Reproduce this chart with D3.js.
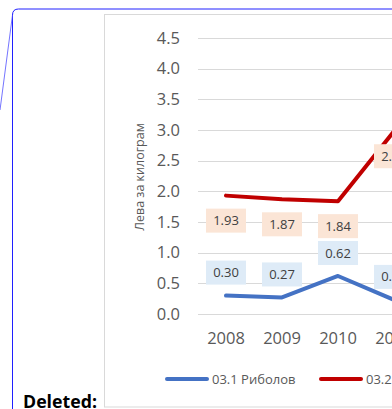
<!DOCTYPE html>
<html><head><meta charset="utf-8">
<script src="https://cdn.jsdelivr.net/npm/d3@7"></script>
<style>body{margin:0;background:#fff}svg{display:block}</style>
</head><body>
<svg id="c" width="392" height="409"></svg>
<script>
const years = ["2008", "2009", "2010", "2011"];
const fishing = [0.30, 0.27, 0.62, 0.23];
const aquaculture = [1.93, 1.87, 1.84, 2.98];
const yTicks = [0, 0.5, 1.0, 1.5, 2.0, 2.5, 3.0, 3.5, 4.0, 4.5];
const seriesNames = ["03.1 Риболов", "03.2 Аквакултури"];
const yTitle = "Лева за килограм";

const svg = d3.select("#c");
const F = "'Open Sans', sans-serif";

// Word track-change frame
svg.append("path").attr("d", "M12.5,409 L12.5,15 Q12.5,9 18.5,9 L392,9")
  .attr("fill", "none").attr("stroke", "#2020ff").attr("stroke-width", 1);
svg.append("line").attr("x1", 12.5).attr("y1", 15).attr("x2", 0).attr("y2", 110)
  .attr("stroke", "#5050ff").attr("stroke-width", 0.8);
svg.append("text").attr("x", 23).attr("y", 408).text("Deleted:")
  .attr("font-family", F).attr("font-weight", "bold").attr("font-size", 17)
  .attr("textLength", 74).attr("lengthAdjust", "spacingAndGlyphs").attr("fill", "#000");

// chart border
svg.append("rect").attr("x", 104.5).attr("y", 14.5).attr("width", 400).attr("height", 392.5)
  .attr("fill", "#fff").attr("stroke", "#d9d9d9").attr("stroke-width", 1);

const x = d3.scaleBand().domain(years).range([198, 198 + 56 * years.length]);
const cx = d => x(d) + x.bandwidth() / 2;
const y = d3.scaleLinear().domain([0, 4.5]).range([314, 38]);

// grid + y axis
const yAxis = d3.axisLeft(y).tickValues(yTicks).tickFormat(d3.format(".1f")).tickSize(0).tickPadding(18);
const gy = svg.append("g").attr("transform", "translate(198,0)").call(yAxis);
gy.select(".domain").remove();
gy.selectAll("text").attr("font-family", F).attr("font-size", 16.5).attr("fill", "#595959");
svg.append("g").selectAll("line").data(yTicks).join("line")
  .attr("x1", 198).attr("x2", 400)
  .attr("y1", d => Math.round(y(d)) + 0.5).attr("y2", d => Math.round(y(d)) + 0.5)
  .attr("stroke", "#d9d9d9").attr("stroke-width", 1);

// x axis
const xAxis = d3.axisBottom(x).tickSize(0).tickPadding(18);
const gx = svg.append("g").attr("transform", "translate(0,314)").call(xAxis);
gx.select(".domain").remove();
gx.selectAll("text").attr("font-family", F).attr("font-size", 16.5).attr("fill", "#595959");

// y title
svg.append("text").attr("transform", "translate(144,177) rotate(-90)")
  .attr("text-anchor", "middle").attr("font-family", F).attr("font-size", 12.5)
  .attr("fill", "#595959").text(yTitle);

const line = d3.line().x((d, i) => cx(years[i])).y(d => y(d));
const series = [
  {vals: fishing, color: "#4472c4", bg: "#deebf7", dy: -23},
  {vals: aquaculture, color: "#c00000", bg: "#fbe5d6", dy: 25}
];
series.forEach(s => {
  svg.append("path").datum(s.vals).attr("d", line).attr("fill", "none")
    .attr("stroke", s.color).attr("stroke-width", 4).attr("stroke-linejoin", "round")
    .attr("stroke-linecap", "round");
});
series.forEach(s => {
  const g = svg.append("g").selectAll("g").data(s.vals).join("g")
    .attr("transform", (d, i) => `translate(${cx(years[i])},${y(d) + s.dy})`);
  g.append("rect").attr("x", -20).attr("y", -12).attr("width", 40).attr("height", 24).attr("fill", s.bg);
  g.append("text").attr("text-anchor", "middle").attr("dy", "0.35em")
    .attr("font-family", F).attr("font-size", 13).attr("fill", "#404040")
    .text(d => d.toFixed(2));
});

// legend
const leg = [{x: 165, color: "#4472c4"}, {x: 319, color: "#c00000"}];
leg.forEach((l, i) => {
  svg.append("line").attr("x1", l.x + 2).attr("x2", l.x + 42).attr("y1", 379).attr("y2", 379)
    .attr("stroke", l.color).attr("stroke-width", 4).attr("stroke-linecap", "round");
  svg.append("text").attr("x", l.x + 47).attr("y", 379).attr("dy", "0.35em")
    .attr("font-family", F).attr("font-size", 13).attr("fill", "#595959").text(seriesNames[i]);
});
</script>
</body></html>
